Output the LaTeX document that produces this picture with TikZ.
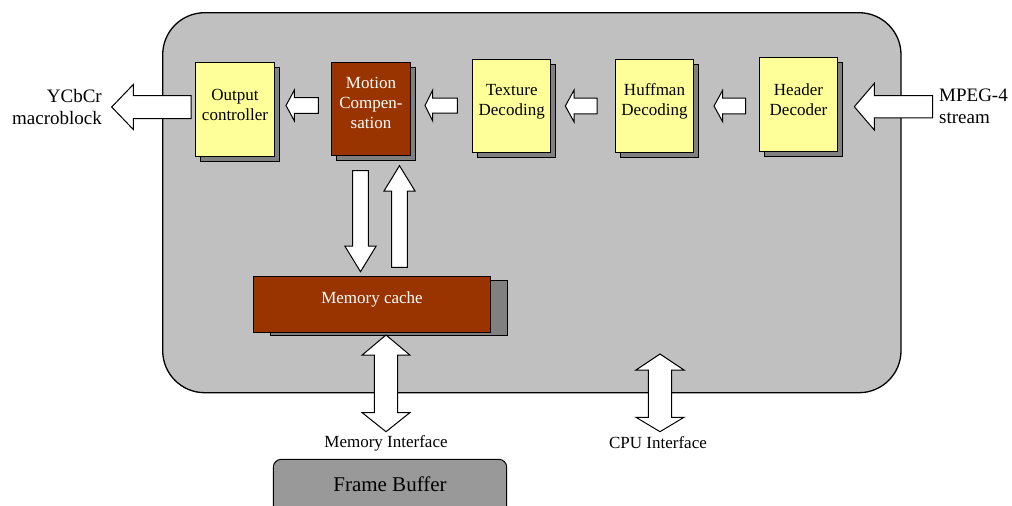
\documentclass[tikz,border=0pt]{standalone}
\usepackage{fontspec}
\setmainfont{Liberation Serif}
\definecolor{panel}{HTML}{C0C0C0}
\definecolor{ybox}{HTML}{FFFF99}
\definecolor{rbox}{HTML}{993300}
\definecolor{shad}{HTML}{808080}
\definecolor{fbuf}{HTML}{999999}
\begin{document}
\begin{tikzpicture}[x=1pt,y=-1pt,
  lbl/.style={font=\fontsize{17}{20}\selectfont,align=center,inner sep=0pt},
  outlbl/.style={font=\fontsize{19}{22}\selectfont,inner sep=0pt},
  shadowbox/.style={draw=black,fill=shad,line width=1pt},
  ybk/.style={draw=black,fill=ybox,line width=1pt},
  rbk/.style={draw=black,fill=rbox,line width=1pt},
  barrow/.style={draw=black,fill=white,line width=1pt,line join=miter}]
\useasboundingbox (0,0) rectangle (1012,506);
\clip (0,0) rectangle (1012,506);
% panel
\draw[fill=panel,line width=1.3pt,rounded corners=42pt] (162.7,12.7) rectangle (901,392.7);
% blocks: shadow then front
\newcommand{\blk}[6]{% name, x1,y1,x2,y2, style
  \draw[shadowbox] (#2+5,#3+5) rectangle (#4+5,#5+5);
  \draw[#6] (#2,#3) rectangle (#4,#5);
  \coordinate (#1) at ({(#2+#4)/2},{(#3+#5)/2});
}
\blk{oc}{195.7}{62.7}{274}{156.7}{ybk}
\blk{mc}{331.7}{62.3}{410}{155.3}{rbk}
\blk{td}{472.7}{59}{550.7}{152.3}{ybk}
\blk{hd}{615.7}{59}{693.3}{152.3}{ybk}
\blk{he}{759.3}{57.5}{837.7}{151.7}{ybk}
\node[lbl] (oct) at (235,105) {Output\\controller};
\node[lbl,text=white] (mct) at (371,102.5) {Motion\\Compen-\\sation};
\node[lbl] (tdt) at (511.7,102) {Texture\\Decoding};
\node[lbl] (hdt) at (654.5,101.5) {Huffman\\Decoding};
\node[lbl] (het) at (798.5,100) {Header\\Decoder};
% memory cache
\draw[shadowbox] (270,280) rectangle (507.3,335);
\draw[rbk] (253.3,276.7) rectangle (490.7,332.3);
\node[lbl,text=white] (mem) at (372,299) {Memory cache};
% horizontal block arrows (pointing left)
\newcommand{\larrow}[6]{% tipx, y, headx, hh, sh, endx
  \draw[barrow] (#1,#2) -- (#3,#2-#4) -- (#3,#2-#5) -- (#6,#2-#5) -- (#6,#2+#5) -- (#3,#2+#5) -- (#3,#2+#4) -- cycle;}
\larrow{111.7}{107}{133.3}{22.5}{11.5}{191}
\larrow{286}{105.5}{294.3}{15.3}{7.8}{318.3}
\larrow{425}{105.5}{432.7}{15.5}{7.5}{457.3}
\larrow{565.3}{106}{574}{15.8}{7.8}{597}
\larrow{714}{106}{722.7}{15.8}{7.8}{745.7}
\larrow{854.3}{106.7}{874.3}{23.3}{11.2}{932.7}
% vertical arrows
\draw[barrow] (360.5,271.7) -- (344.8,246) -- (352.7,246) -- (352.7,170.7) -- (368.3,170.7) -- (368.3,246) -- (376.2,246) -- cycle;
\draw[barrow] (399.5,165.7) -- (384,191) -- (391.7,191) -- (391.7,267.3) -- (407.3,267.3) -- (407.3,191) -- (415,191) -- cycle;
% double arrows
\newcommand{\darrow}[6]{% x, toptip, headtop, headbot, bottip, hh ; shaft half 11.7
  \draw[barrow] (#1,#2) -- (#1+#6,#3) -- (#1+11.7,#3) -- (#1+11.7,#4) -- (#1+#6,#4) -- (#1,#5) -- (#1-#6,#4) -- (#1-11.7,#4) -- (#1-11.7,#3) -- (#1-#6,#3) -- cycle;}
\darrow{386}{335}{355}{412.7}{431.7}{23.8}
\darrow{660}{354}{370}{417.3}{431.7}{24}
% labels
\node[font=\fontsize{17}{20}\selectfont,inner sep=0pt] (mi) at (386,443) {Memory Interface};
\node[font=\fontsize{17}{20}\selectfont,inner sep=0pt] (ci) at (658,442.5) {CPU Interface};
\node[outlbl,align=right,anchor=east] (ycc) at (102,107) {YCbCr\\macroblock};
\node[outlbl,align=left,anchor=west] (mp) at (939,106.5) {MPEG-4\\stream};
% frame buffer
\draw[fill=fbuf,line width=1pt,rounded corners=8pt] (273.3,459.3) rectangle (506.7,530);
\node[font=\fontsize{21}{24}\selectfont,inner sep=0pt] (fb) at (390,484) {Frame Buffer};
\end{tikzpicture}
\end{document}
